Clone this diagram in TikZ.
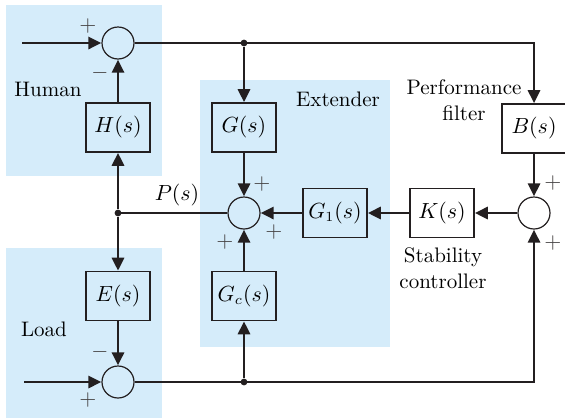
\documentclass[tikz,border=0pt]{standalone}
\usetikzlibrary{arrows.meta,positioning}
\definecolor{shade}{RGB}{213,236,250}
\definecolor{ink}{RGB}{35,31,32}

\newcommand{\tfun}[1]{$#1(s)$}

\begin{document}
\begin{tikzpicture}[
    x=0.5pt, y=-0.5pt,
    font=\fontsize{10.5}{13}\selectfont,
    block/.style={draw=ink, line width=0.8pt, minimum width=32pt, minimum height=24.5pt, inner sep=0pt},
    sum/.style={draw=ink, circle, line width=0.6pt, minimum size=16pt, inner sep=0pt},
    sig/.style={draw=ink, line width=1.4pt, -{Triangle[length=6.5pt,width=6pt]}},
    wire/.style={draw=ink, line width=1.4pt},
    sign/.style={font=\fontsize{10.5}{10.5}\selectfont, text=ink!85, inner sep=0pt},
    dot/.style={circle, fill=ink, inner sep=0pt, minimum size=3.4pt},
    region/.style={fill=shade}
]
\useasboundingbox (0,0) rectangle (565,418);

% Shaded groups: human, extender, load
\fill[region] (6,5) rectangle (162,176);
\fill[region] (200,80) rectangle (390,347);
\fill[region] (6,248) rectangle (162,418);

\node (lblHuman) at (48,89) {Human};
\node (lblExt) at (338,99) {Extender};
\node (lblLoad) at (44,329) {Load};
\node[align=center] (lblPerf) at (464,100) {Performance\\filter};
\node[align=center] (lblStab) at (443,268) {Stability\\controller};

% Summing junctions
\node[sum] (sumH) at (118,43) {};
\node[sum] (sumM) at (244,213) {};
\node[sum] (sumR) at (534,213) {};
\node[sum] (sumL) at (118,382) {};

% Blocks
\node[block] (H) at (118,127.5) {\tfun{H}};
\node[block] (G) at (244,127.5) {\tfun{G}};
\node[block] (B) at (534,128.5) {\tfun{B}};
\node[block] (G1) at (335,213) {$G_1(s)$};
\node[block] (K) at (442,213) {\tfun{K}};
\node[block] (E) at (118,296) {\tfun{E}};
\node[block] (Gc) at (244,296) {$G_c(s)$};

% Branch points and free ends
\node[dot] (jT) at (244,43) {};
\node[dot] (jP) at (118,213) {};
\node[dot] (jB) at (244,382) {};
\coordinate (inH) at (22,43);
\coordinate (inL) at (24,382);

% Top path
\draw[sig] (inH) -- (sumH);
\draw[sig] (sumH) -- (jT.center) -| (B);
\draw[sig] (jT) -- (G);
\draw[sig] (G) -- (sumM);
\draw[sig] (B) -- (sumR);

% Stability loop
\draw[sig] (sumR) -- (K);
\draw[sig] (K) -- (G1);
\draw[sig] (G1) -- (sumM);
\draw[wire] (sumM) -- (jP.center);
\draw[sig] (jP) -- (H);
\draw[sig] (H) -- (sumH);
\draw[sig] (jP) -- (E);
\draw[sig] (E) -- (sumL);

% Bottom path
\draw[sig] (inL) -- (sumL);
\draw[sig] (sumL) -- (jB.center) -| (sumR);
\draw[sig] (jB) -- (Gc);
\draw[sig] (Gc) -- (sumM);

% Signs
\node[sign] (sH1) at (88,26) {$+$};
\node[sign] (sH2) at (100,73) {$-$};
\node[sign] (sM1) at (262,184) {$+$};
\node[sign] (sM2) at (225,242) {$+$};
\node[sign] (sM3) at (274,232) {$+$};
\node[sign] (sR1) at (553,183) {$+$};
\node[sign] (sR2) at (553,243) {$+$};
\node[sign] (sL1) at (100,352) {$-$};
\node[sign] (sL2) at (88,400) {$+$};
\node (lblP) at (177,195) {$P(s)$};
\end{tikzpicture}
\end{document}
